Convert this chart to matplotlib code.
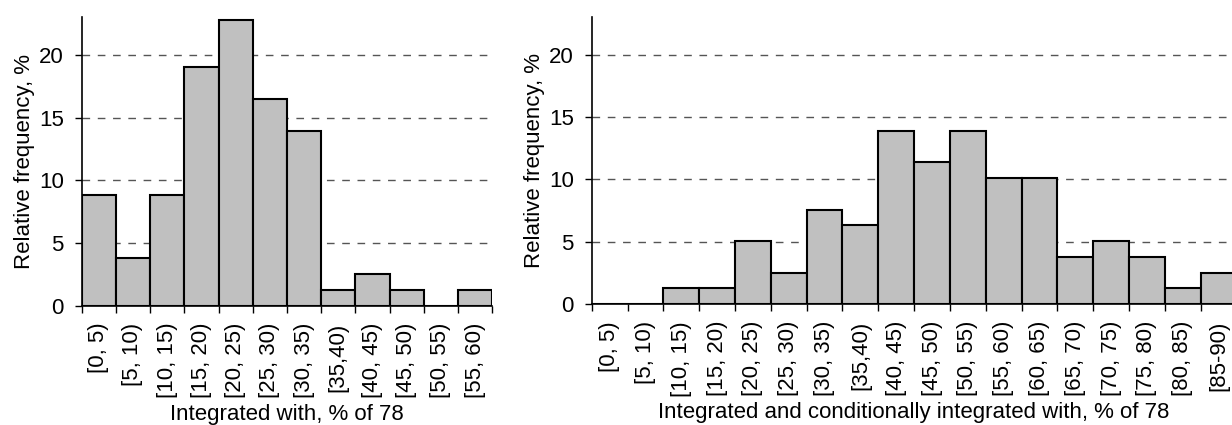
import numpy as np
import matplotlib
matplotlib.use('Agg')
import matplotlib.pyplot as plt

plt.rcParams['font.family'] = ['Liberation Sans', 'DejaVu Sans']
plt.rcParams['font.size'] = 16
plt.rcParams['lines.scale_dashes'] = False

# left panel: integrated with, % of 78
left_bins = ['[0, 5)', '[5, 10)', '[10, 15)', '[15, 20)', '[20, 25)', '[25, 30)',
             '[30, 35)', '[35,40)', '[40, 45)', '[45, 50)', '[50, 55)', '[55, 60)']
left_freq = [8.86, 3.80, 8.86, 18.99, 22.78, 16.46, 13.92, 1.27, 2.53, 1.27, 0.0, 1.27]

# right panel: integrated and conditionally integrated with, % of 78
right_bins = ['[0, 5)', '[5, 10)', '[10, 15)', '[15, 20)', '[20, 25)', '[25, 30)',
              '[30, 35)', '[35,40)', '[40, 45)', '[45, 50)', '[50, 55)', '[55, 60)',
              '[60, 65)', '[65, 70)', '[70, 75)', '[75, 80)', '[80, 85)', '[85-90)']
right_freq = [0.0, 0.0, 1.27, 1.27, 5.06, 2.53, 7.59, 6.33, 13.92, 11.39, 13.92, 10.13,
              10.13, 3.80, 5.06, 3.80, 1.27, 2.53]

yticks = [0, 5, 10, 15, 20]


def draw_hist(ax, labels, freq, xlabel):
    n = len(freq)
    x = np.arange(n)
    ax.bar(x, freq, width=1.0, align='edge', color='#c0c0c0',
           edgecolor='black', linewidth=1.5, zorder=3)
    ax.set_xlim(0, n)
    ax.set_ylim(0, 23)
    ax.set_yticks(yticks)
    ax.yaxis.grid(True, color='#555555', linestyle=(0, (5.5, 5.5)), linewidth=1.0, zorder=0)
    ax.set_axisbelow(True)

    # tick marks on the bin edges, labels in the middle of the bins
    ax.set_xticks(np.arange(n + 1))
    ax.set_xticklabels([])
    ax.set_xticks(x + 0.5, minor=True)
    ax.set_xticklabels(labels, minor=True, rotation=90)
    ax.tick_params(axis='x', which='major', length=5, width=1, direction='out')
    ax.tick_params(axis='x', which='minor', length=0, pad=12)
    ax.tick_params(axis='y', length=5, width=1, pad=8)

    for s in ['top', 'right']:
        ax.spines[s].set_visible(False)
    ax.spines['left'].set_linewidth(1.2)
    ax.spines['bottom'].set_linewidth(1.2)
    ax.spines['bottom'].set_zorder(4)

    ax.set_ylabel('Relative frequency, %', labelpad=3)
    ax.set_xlabel(xlabel, labelpad=4)


fig = plt.figure(figsize=(12.32, 4.25), dpi=100)
ax1 = fig.add_axes([0.0663, 0.28, 0.3332, 0.68])
ax2 = fig.add_axes([0.4803, 0.2840, 0.5234, 0.6755])

draw_hist(ax1, left_bins, left_freq, 'Integrated with, % of 78')
draw_hist(ax2, right_bins, right_freq, 'Integrated and conditionally integrated with, % of 78')

fig.savefig('out.png', dpi=100)
